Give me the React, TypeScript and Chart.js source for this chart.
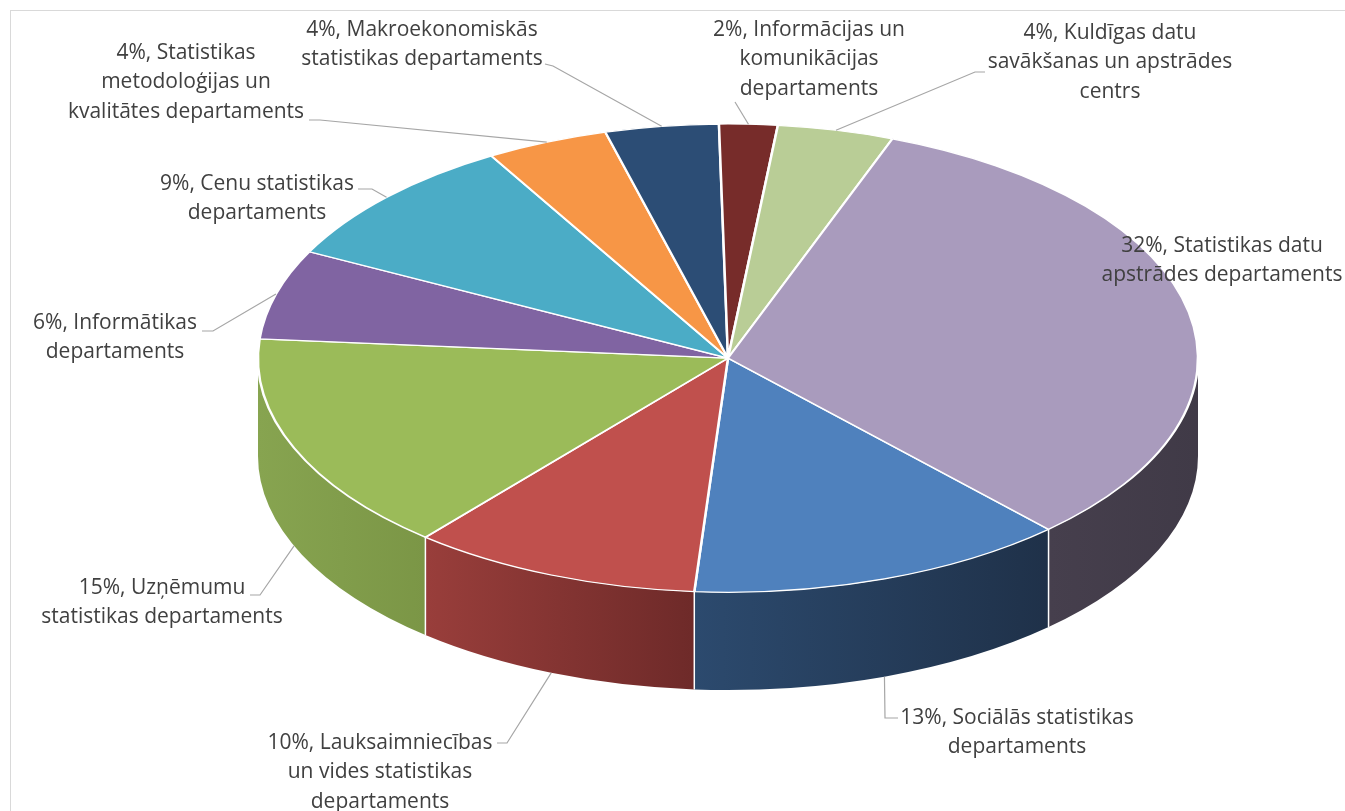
import React, { useEffect, useRef } from "react";
import { Chart, registerables } from "chart.js";

Chart.register(...registerables);

// ---------- data ----------
const CATEGORIES: string[] = [
  "Sociālās statistikas departaments",
  "Lauksaimniecības un vides statistikas departaments",
  "Uzņēmumu statistikas departaments",
  "Informātikas departaments",
  "Cenu statistikas departaments",
  "Statistikas metodoloģijas un kvalitātes departaments",
  "Makroekonomiskās statistikas departaments",
  "Informācijas un komunikācijas departaments",
  "Kuldīgas datu savākšanas un apstrādes centrs",
  "Statistikas datu apstrādes departaments",
];
const SHARES: number[] = [13.1, 10.0, 15.2, 6.2, 9.1, 4.2, 3.9, 2.0, 4.0, 32.4];
// words per label line (label text = "NN%, " + category)
const LINE_WORDS: number[][] = [
  [3, 1],
  [2, 3, 1],
  [2, 2],
  [2, 1],
  [3, 1],
  [2, 2, 2],
  [2, 2],
  [3, 1, 1],
  [3, 3, 1],
  [3, 2],
];

// ---------- style ----------
const TOP_COLORS = [
  "#4F81BD", "#C0504D", "#9BBB59", "#8064A2", "#4BACC6",
  "#F79646", "#2C4D75", "#772C2A", "#B9CD96", "#A99BBD",
];
const SIDE_COLORS: string[][] = [
  ["#2C4A6E", "#1F3149"],
  ["#993E3B", "#6E2A29"],
  ["#87A450", "#7B9646"],
  ["#5A4672", "#4C3C61"],
  ["#357A8C", "#2D6877"],
  ["#AE6A31", "#945A2A"],
  ["#1F3652", "#1A2E46"],
  ["#54201E", "#471B19"],
  ["#828F69", "#6F7A5A"],
  ["#463F4D", "#403A47"],
];
const TEXT_COLOR = "#404040";
const LEADER_COLOR = "#A6A6A6";
const FONT = "21px 'Open Sans', Lato, sans-serif";
const LINE_H = 29.5;
const ROTATION = 137; // degrees, first slice start (clockwise from top)
const DEPTH_RATIO = 0.208; // side height relative to horizontal radius

// label layout: centre x, first-line centre y, leader start and elbow
const LABEL_LAYOUT: { x: number; y: number; from: number[] | null; elbow: number[] | null }[] = [
  { x: 1017, y: 718, from: [898, 718], elbow: [885, 718] },
  { x: 380, y: 743, from: [497, 743], elbow: [507, 743] },
  { x: 162, y: 588, from: [250, 595], elbow: [260, 595] },
  { x: 115, y: 323, from: [202, 331], elbow: [213, 331] },
  { x: 257, y: 184, from: [358, 189], elbow: [372, 189] },
  { x: 186, y: 53, from: [309, 120], elbow: [320, 120] },
  { x: 422, y: 30, from: [545, 64], elbow: [553, 66] },
  { x: 809, y: 30, from: [735, 102], elbow: null },
  { x: 1110, y: 33, from: [985, 72], elbow: [975, 72] },
  { x: 1222, y: 246, from: null, elbow: null },
];

function geometry(chart: any) {
  const a = chart.chartArea;
  const rx = (a.right - a.left) / 2;
  const depth = rx * DEPTH_RATIO;
  const ry = (a.bottom - a.top - depth) / 2;
  return { cx: (a.left + a.right) / 2, cy: a.top + ry, rx, ry, depth };
}

const pie3d = {
  id: "pie3d",
  beforeDatasetsDraw(chart: any) {
    const ctx: CanvasRenderingContext2D = chart.ctx;
    const meta = chart.getDatasetMeta(0);
    const g = geometry(chart);
    const arcs = meta.data as any[];
    if (!arcs.length) return;
    const TWO_PI = Math.PI * 2;
    // front walls
    arcs.forEach((arc, i) => {
      const s = arc.startAngle;
      const e = arc.endAngle;
      for (let k = -1; k <= 2; k++) {
        const lo = Math.max(s, TWO_PI * k);
        const hi = Math.min(e, TWO_PI * k + Math.PI);
        if (hi <= lo) continue;
        let xmin = Infinity, xmax = -Infinity;
        for (let j = 0; j <= 40; j++) {
          const t = lo + ((hi - lo) * j) / 40;
          const x = g.cx + g.rx * Math.cos(t);
          xmin = Math.min(xmin, x);
          xmax = Math.max(xmax, x);
        }
        const grad = ctx.createLinearGradient(xmin, 0, xmax, 0);
        grad.addColorStop(0, SIDE_COLORS[i][0]);
        grad.addColorStop(1, SIDE_COLORS[i][1]);
        ctx.beginPath();
        ctx.ellipse(g.cx, g.cy, g.rx, g.ry, 0, lo, hi, false);
        ctx.ellipse(g.cx, g.cy + g.depth, g.rx, g.ry, 0, hi, lo, true);
        ctx.closePath();
        ctx.fillStyle = grad;
        ctx.fill();
      }
    });
    // white separators on the walls
    ctx.save();
    ctx.strokeStyle = "#FFFFFF";
    ctx.lineWidth = 1.5;
    arcs.forEach((arc) => {
      let b = arc.startAngle % TWO_PI;
      if (b < 0) b += TWO_PI;
      if (b > 0.01 && b < Math.PI - 0.01) {
        const x = g.cx + g.rx * Math.cos(b);
        const y = g.cy + g.ry * Math.sin(b);
        ctx.beginPath();
        ctx.moveTo(x, y);
        ctx.lineTo(x, y + g.depth);
        ctx.stroke();
      }
    });
    ctx.restore();
    // squash the library-drawn pie into the top face
    const a0 = arcs[0];
    const r0 = a0.outerRadius;
    ctx.save();
    ctx.translate(g.cx, g.cy);
    ctx.scale(g.rx / r0, g.ry / r0);
    ctx.translate(-a0.x, -a0.y);
  },
  afterDatasetsDraw(chart: any) {
    chart.ctx.restore();
  },
  afterDraw(chart: any) {
    const ctx: CanvasRenderingContext2D = chart.ctx;
    const meta = chart.getDatasetMeta(0);
    const g = geometry(chart);
    const total = SHARES.reduce((p, v) => p + v, 0);
    ctx.save();
    (meta.data as any[]).forEach((arc, i) => {
      const lay = LABEL_LAYOUT[i];
      const mid = (arc.startAngle + arc.endAngle) / 2;
      const ax = g.cx + g.rx * Math.cos(mid);
      const ay = g.cy + g.ry * Math.sin(mid) + (Math.sin(mid) > 0 ? g.depth : 0);
      if (lay.from) {
        ctx.strokeStyle = LEADER_COLOR;
        ctx.lineWidth = 1.2;
        ctx.beginPath();
        ctx.moveTo(lay.from[0], lay.from[1]);
        if (lay.elbow) ctx.lineTo(lay.elbow[0], lay.elbow[1]);
        ctx.lineTo(ax, ay);
        ctx.stroke();
      }
      const pct = Math.round((SHARES[i] / total) * 100);
      const words = (pct + "%, " + CATEGORIES[i]).split(" ");
      const lines: string[] = [];
      let p = 0;
      LINE_WORDS[i].forEach((n) => {
        lines.push(words.slice(p, p + n).join(" "));
        p += n;
      });
      ctx.fillStyle = TEXT_COLOR;
      ctx.font = FONT;
      ctx.textAlign = "center";
      ctx.textBaseline = "middle";
      lines.forEach((ln, k) => ctx.fillText(ln, lay.x, lay.y + k * LINE_H));
    });
    ctx.restore();
  },
};

export default function App() {
  const ref = useRef<HTMLCanvasElement | null>(null);
  useEffect(() => {
    if (!ref.current) return;
    const chart = new Chart(ref.current, {
      type: "pie",
      data: {
        labels: CATEGORIES,
        datasets: [
          {
            data: SHARES,
            backgroundColor: TOP_COLORS,
            borderColor: "#FFFFFF",
            borderWidth: 1.5,
            clip: false as any,
          } as any,
        ],
      },
      options: {
        responsive: false,
        animation: false,
        rotation: ROTATION,
        events: [],
        layout: { padding: { left: 258, right: 147, top: 124, bottom: 121 } },
        plugins: {
          legend: { display: false },
          tooltip: { enabled: false },
          title: { display: false },
        },
      },
      plugins: [pie3d as any],
    });
    return () => chart.destroy();
  }, []);
  return (
    <div
      style={{
        position: "fixed",
        left: 0,
        top: 0,
        width: 1345,
        height: 811,
        overflow: "hidden",
        background: "#FFFFFF",
      }}
    >
      <div
        style={{
          position: "absolute",
          left: 10,
          top: 10,
          width: 1500,
          height: 1000,
          border: "1px solid #D9D9D9",
        }}
      />
      <canvas
        ref={ref}
        width={1345}
        height={811}
        style={{ position: "absolute", left: 0, top: 0, width: 1345, height: 811 }}
      />
    </div>
  );
}
